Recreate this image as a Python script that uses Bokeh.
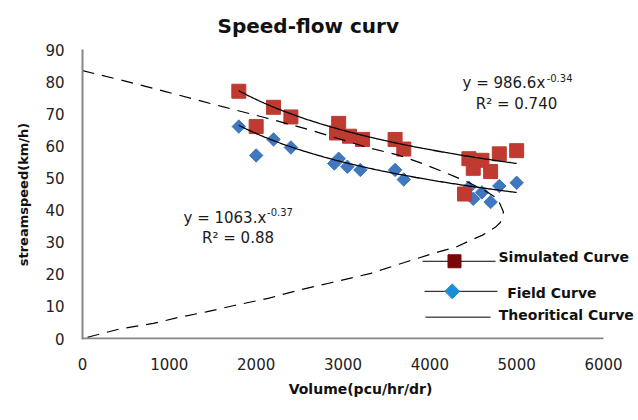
import numpy as np
from bokeh.plotting import figure
from bokeh.models import Range1d, FixedTicker, Label
from bokeh.embed import file_html
from bokeh.resources import INLINE

# Simulated speeds (pcu/hr/dr vs km/h)
sim_volume = [1800, 2000, 2200, 2400, 2950, 2925, 3075, 3225, 3600, 3700,
              4400, 4450, 4500, 4600, 4700, 4800, 5000]
sim_speed = [77, 66, 72, 69, 67, 64, 63, 62, 62, 59,
             45, 56, 53, 55.5, 52, 57.5, 58.5]

# Field observations
field_volume = [1800, 2000, 2200, 2400, 2950, 2900, 3050, 3200, 3600, 3700,
                4450, 4600, 4500, 4700, 4800, 5000]
field_speed = [66, 57, 62, 59.5, 56, 54.5, 53.5, 52.5, 52.5, 49.5,
               47, 45.5, 43.5, 42.5, 47.5, 48.5]

# Theoretical speed-flow relation (upper branch, nose, lower branch)
theory_volume = [0, 426, 956, 1612, 2107, 2614, 3294, 3628, 3893, 4158, 4434,
                 4618, 4780, 4848, 4814, 4757, 4607, 4468, 4296, 4089, 3743,
                 3320, 2850, 2480, 2150, 1735, 1425, 1110, 815, 415, 0]
theory_speed = [83.4, 80.6, 76.9, 72.2, 68.75, 65.0, 59.4, 57.2, 54.7, 51.9, 48.75,
                46.3, 43.6, 39.4, 36.2, 34.7, 32.2, 30.6, 28.4, 26.9, 24.0,
                20.3, 17.3, 15.0, 12.6, 10.2, 8.3, 6.6, 4.7, 2.9, 0]

# Power-law trendlines y = a * x^b
sim_fit = (986.6, -0.34)
field_fit = (1063.0, -0.37)
fit_range = (1800, 5000)

x_ticks = [0, 1000, 2000, 3000, 4000, 5000, 6000]
y_ticks = [0, 10, 20, 30, 40, 50, 60, 70, 80, 90]
x_axis_end = 6000

FONT = "DejaVu Sans"

# The frame runs to the right edge so that the legend text is not cut off;
# the visible x axis line is drawn only from 0 to 6000.
p = figure(width=638, height=420, output_backend="svg", toolbar_location=None,
           x_range=Range1d(0, 6403), y_range=Range1d(-0.3, 90),
           min_border_left=82, min_border_right=0,
           min_border_top=49, min_border_bottom=81)
p.outline_line_color = None
p.xgrid.visible = False
p.ygrid.visible = False
p.background_fill_color = "white"
p.border_fill_color = "white"

p.title.text = "Speed-flow curv"
p.title.text_font = FONT
p.title.text_font_style = "bold"
p.title.text_font_size = "20px"
p.title.text_color = "#111111"
p.title.align = "left"
p.title.offset = 135
p.title.standoff = 23

for ax in (p.xaxis, p.yaxis):
    ax.major_tick_in = 0
    ax.major_tick_out = 0
    ax.minor_tick_line_color = None
    ax.major_label_text_font = FONT
    ax.major_label_text_font_size = "15px"
    ax.major_label_text_color = "#222222"
    ax.axis_label_text_font = FONT
    ax.axis_label_text_font_style = "bold"
    ax.axis_label_text_color = "#111111"

p.yaxis.axis_line_color = "#868686"
p.yaxis.axis_line_width = 2
p.xaxis.axis_line_color = None

p.xaxis.ticker = FixedTicker(ticks=x_ticks)
p.yaxis.ticker = FixedTicker(ticks=y_ticks)
p.xaxis.major_label_standoff = 18
p.yaxis.major_label_standoff = 18
p.xaxis.axis_label = "Volume(pcu/hr/dr)"
p.yaxis.axis_label = "streamspeed(km/h)"
p.xaxis.axis_label_text_font_size = "14px"
p.yaxis.axis_label_text_font_size = "13px"
p.xaxis.axis_label_standoff = 8
p.yaxis.axis_label_standoff = 11

# x axis line
p.segment(x0=[0], y0=[0], x1=[x_axis_end], y1=[0], line_color="#868686", line_width=2)

# markers
p.scatter(field_volume, field_speed, marker="square", angle=np.pi / 4, size=9.5,
          fill_color="#3F77C0", line_color="#3F77C0")
p.scatter(sim_volume, sim_speed, marker="square", size=14,
          fill_color="#BF3A30", line_color="#BF3A30")

# trendlines
xs = np.linspace(fit_range[0], fit_range[1], 200)
for a, b in (sim_fit, field_fit):
    p.line(xs, a * xs ** b, line_color="black", line_width=1.3)

# theoretical curve
p.line(theory_volume, theory_speed, line_color="black", line_width=1.2,
       line_dash="12 8")

# trendline equations
def eq_label(x, y, text, size="15px", align="left"):
    p.add_layout(Label(x=x, y=y, text=text, text_align=align, text_baseline="middle",
                       text_font=FONT, text_font_size=size, text_color="#1a1a1a"))

eq_label(4376, 79.7, "y = 986.6x")
eq_label(5345, 81.0, "-0.34", size="10px")
eq_label(4998, 73.1, "R\u00b2 = 0.740", align="center")
eq_label(1163, 37.5, "y = 1063.x")
eq_label(2125, 39.3, "-0.37", size="10px")
eq_label(1791, 31.25, "R\u00b2 = 0.88", align="center")

# legend
p.segment(x0=[3916, 3939, 3950], y0=[24.06, 14.7, 6.66],
          x1=[4757, 4779, 4699], y1=[24.06, 14.7, 6.66],
          line_color="black", line_width=1)
p.scatter([4284], [24.06], marker="square", size=13,
          fill_color="#780808", line_color="#780808")
p.scatter([4258], [14.7], marker="square", angle=np.pi / 4, size=10.5,
          fill_color="#1A8FD8", line_color="#1A8FD8")
for x, y, t in ((4791, 25.3, "Simulated Curve"), (4891, 14.2, "Field Curve"),
                (4794, 7.19, "Theoritical Curve")):
    p.add_layout(Label(x=x, y=y, text=t, text_align="left", text_baseline="middle",
                       text_font=FONT, text_font_style="bold", text_font_size="14px",
                       text_color="#111111"))

open("out.html", "w").write(file_html(p, INLINE))
